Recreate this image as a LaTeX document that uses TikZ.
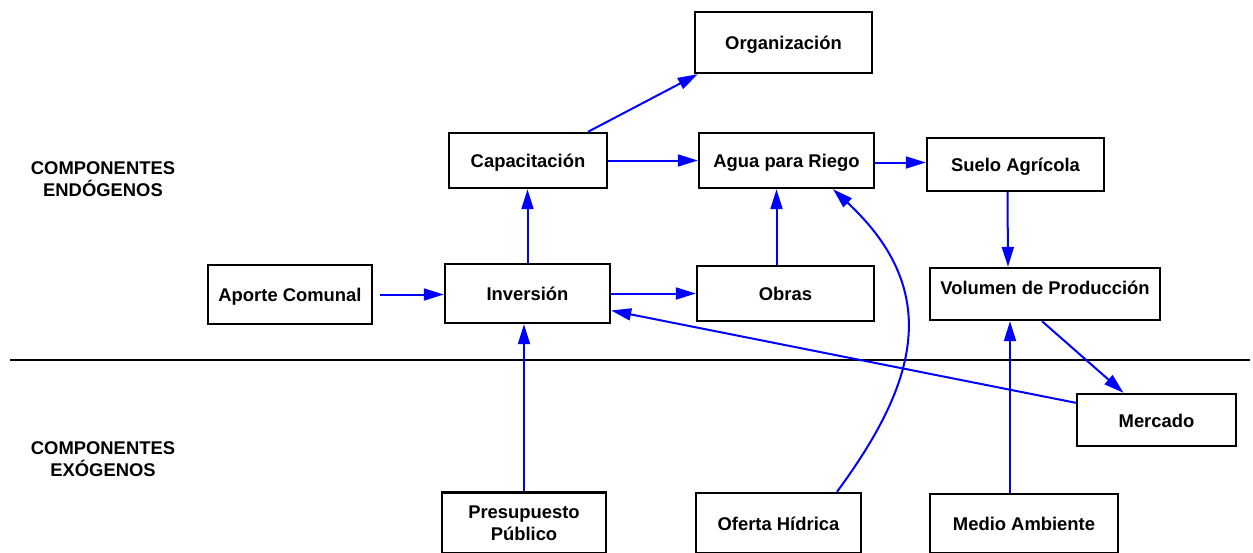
\documentclass[tikz,border=0pt]{standalone}
\usepackage{fontspec}
\setmainfont{Liberation Sans}
\usetikzlibrary{arrows.meta}
\begin{document}
\begin{tikzpicture}[x=1pt,y=-1pt,
  every node/.style={font=\fontsize{18.4}{22}\selectfont\bfseries},
  box/.style={draw=black,line width=2.4pt,fill=white,inner sep=0pt,
    text height=0.72em+7pt,text depth=0pt,align=center},
  conn/.style={draw=blue,line width=2pt,-{Triangle[length=20pt,width=12pt]}},
  divider/.style={draw=black,line width=2pt},
  zone/.style={align=center}]
\useasboundingbox (0,0) rectangle (1253,552);

% zone titles
\node[zone] (endo) at (103,179) {COMPONENTES\\END\'OGENOS};
\node[zone] (exo)  at (103,459) {COMPONENTES\\EX\'OGENOS};

% boundary between endogenous and exogenous parts
\coordinate (divL) at (10,360);
\coordinate (divR) at (1250,360);
\draw[divider] (divL) -- (divR);

% components
\node[box,minimum width=177pt,minimum height=61pt] (org)   at (783.5,42.5)  {Organizaci\'on};
\node[box,minimum width=158pt,minimum height=55pt] (cap)   at (528,160.5)   {Capacitaci\'on};
\node[box,minimum width=175pt,minimum height=55pt] (agua)  at (786.5,160.5) {Agua para Riego};
\node[box,minimum width=177pt,minimum height=53pt] (suelo) at (1015.5,164.5) {Suelo Agr\'icola};
\node[box,minimum width=164pt,minimum height=59pt] (apo)   at (290,294.5)   {Aporte Comunal};
\node[box,minimum width=165pt,minimum height=59pt] (inv)   at (527.5,293.5) {Inversi\'on};
\node[box,minimum width=177pt,minimum height=55pt] (obr)   at (785.5,293.5) {Obras};
\node[box,minimum width=230pt,minimum height=52pt,text depth=14pt] (vol) at (1045,294) {Volumen de Producci\'on};
\node[box,minimum width=159pt,minimum height=52pt] (mer)   at (1156.5,420)  {Mercado};
\node[draw=black,line width=2.4pt,fill=white,inner sep=0pt,align=center,
      minimum width=164pt,minimum height=61pt] (pre) at (524,523) {Presupuesto\\P\'ublico};
\node[box,minimum width=165pt,minimum height=60pt] (ofe)   at (778.5,523)   {Oferta H\'idrica};
\node[box,minimum width=188pt,minimum height=59pt] (med)   at (1024,523.5)  {Medio Ambiente};

% influences
\draw[conn] ([xshift=60pt]cap.north) -- ([xshift=4pt]org.south west);
\draw[conn] (cap.east) -- (agua.west);
\draw[conn] ([yshift=-2pt]agua.east) -- ([yshift=-2pt]agua.east -| suelo.west);
\draw[conn] (inv.north) -- (inv.north |- cap.south);
\draw[conn] ([xshift=-9pt]obr.north) -- ([xshift=-9pt]obr.north |- agua.south);
\draw[conn] ([xshift=-8pt]suelo.south) -- ([xshift=-37pt]vol.north);
\draw[conn,shorten <=7pt] (apo.east) -- (apo.east -| inv.west);
\draw[conn] (inv.east) -- (inv.east -| obr.west);
\draw[conn] ([yshift=-10pt]mer.north west) -- ([yshift=-17pt]inv.east);
\draw[conn] ([xshift=-3pt]vol.south) -- ([xshift=-33pt]mer.north);
\draw[conn] ([xshift=-14pt]med.north) -- ([xshift=-14pt]med.north |- vol.south);
\draw[conn] (pre.north) -- (pre.north |- inv.south);
\draw[conn] ([xshift=58.5pt]ofe.north) .. controls +(78,-106) and +(112,104) .. ([xshift=46.5pt]agua.south);
\end{tikzpicture}
\end{document}
